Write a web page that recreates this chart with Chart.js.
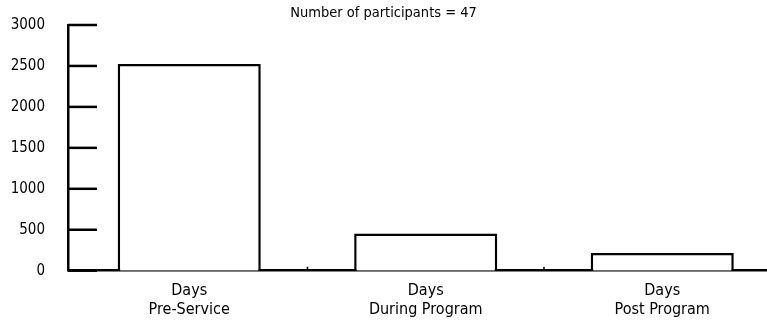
<!DOCTYPE html>
<html>
<head>
<meta charset="utf-8">
<script src="https://cdn.jsdelivr.net/npm/chart.js@4/dist/chart.umd.min.js"></script>
<style>
  html, body { margin: 0; padding: 0; background: #fff; overflow: hidden; }
  #wrap { position: relative; width: 767px; height: 325px; }
</style>
</head>
<body>
<div id="wrap"><canvas id="c"></canvas></div>
<script>
// ---- data ----
const categories = [["Days", "Pre-Service"], ["Days", "During Program"], ["Days", "Post Program"]];
const daysValues = [2525, 455, 215];
const yTickValues = [0, 500, 1000, 1500, 2000, 2500, 3000];
const subtitleText = "Number of participants = 47";

const FONT = "'Liberation Sans Narrow', 'DejaVu Sans Condensed', 'Roboto Condensed', sans-serif";

const points = daysValues.map((v, i) => ({ x: i, y: v }));

const innerTicks = {
  id: 'innerTicks',
  afterDraw(chart) {
    const { ctx, chartArea, scales } = chart;
    const y = scales.y, x = scales.x;
    ctx.save();
    ctx.strokeStyle = '#000';
    ctx.lineWidth = 2.5;
    yTickValues.forEach(v => {
      const py = y.getPixelForValue(v);
      ctx.beginPath();
      ctx.moveTo(chartArea.left, py);
      ctx.lineTo(chartArea.left + 29, py);
      ctx.stroke();
    });
    ctx.lineWidth = 1.5;
    for (let i = 0; i < categories.length - 1; i++) {
      const px = x.getPixelForValue(i + 0.5);
      ctx.beginPath();
      ctx.moveTo(px, chartArea.bottom);
      ctx.lineTo(px, chartArea.bottom - 4);
      ctx.stroke();
    }
    ctx.restore();
  }
};

new Chart(document.getElementById('c'), {
  type: 'bar',
  data: {
    datasets: [{
      data: points,
      backgroundColor: '#ffffff',
      borderColor: '#000000',
      borderWidth: 2.5,
      barPercentage: 0.605,
      categoryPercentage: 1.0
    }]
  },
  options: {
    responsive: true,
    maintainAspectRatio: false,
    animation: false,
    layout: { padding: { left: 0, right: 0, top: 0, bottom: 0 } },
    plugins: {
      legend: { display: false },
      tooltip: { enabled: false },
      title: { display: false },
      subtitle: {
        display: true,
        text: subtitleText,
        color: '#000',
        font: { family: FONT, size: 14.5, weight: 'normal', lineHeight: 1.2 },
        padding: { top: 5, bottom: 2.6 }
      }
    },
    scales: {
      x: {
        type: 'linear',
        min: -0.5125,
        max: 2.443,
        offset: false,
        grid: { display: false, drawTicks: false },
        border: { display: true, color: '#000', width: 2.5 },
        afterBuildTicks(scale) {
          scale.ticks = categories.map((c, i) => ({ value: i }));
        },
        afterFit(scale) { scale.height = 54.3; },
        ticks: {
          color: '#000',
          padding: 10.5,
          maxRotation: 0,
          autoSkip: false,
          font: { family: FONT, size: 16, lineHeight: 1.2 },
          callback: (v) => categories[v] || ''
        }
      },
      y: {
        min: 0,
        max: 3000,
        grid: { display: false, drawTicks: false },
        border: { display: true, color: '#000', width: 2.5 },
        afterBuildTicks(scale) {
          scale.ticks = yTickValues.map(v => ({ value: v }));
        },
        afterFit(scale) {
          scale.width = 68;
          scale.paddingTop = 9;
          scale.paddingBottom = 9;
        },
        ticks: {
          color: '#000',
          padding: 23,
          font: { family: FONT, size: 15 },
          callback: (v) => String(v)
        }
      }
    }
  },
  plugins: [innerTicks]
});
</script>
</body>
</html>
